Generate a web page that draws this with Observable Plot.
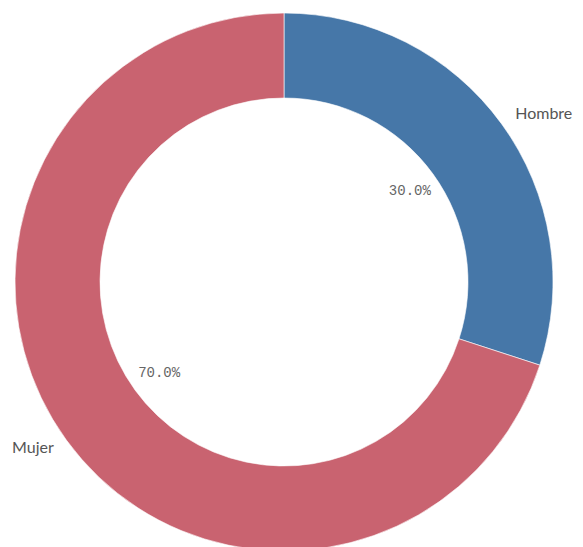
<!DOCTYPE html>
<html>
<head>
<meta charset="utf-8">
<script src="https://cdn.jsdelivr.net/npm/d3@7"></script>
<script src="https://cdn.jsdelivr.net/npm/@observablehq/plot@0.6"></script>
<style>
  html, body { margin: 0; padding: 0; background: #fff; }
  #chart svg { display: block; }
</style>
</head>
<body>
<div id="chart"></div>
<script>
const categories = ["Hombre", "Mujer"];
const values = [30, 70];
const colors = ["#4677a8", "#c96370"];

const total = d3.sum(values);
const pie = d3.pie().sort(null).value(d => d.value);
const arcs = pie(categories.map((c, i) => ({category: c, value: values[i], color: colors[i]})));
const slices = arcs.map(a => {
  const mid = (a.startAngle + a.endAngle) / 2;
  return {
    category: a.data.category,
    color: a.data.color,
    startAngle: a.startAngle,
    endAngle: a.endAngle,
    pct: (a.data.value / total * 100).toFixed(1) + "%",
    sx: Math.sin(mid),
    sy: Math.cos(mid)
  };
});

const INNER = 0.684, LABEL_R = 1.06, PCT_R = 0.576;

function donutMark(index, scales, values, dims, context) {
  const cx = scales.x(0), cy = scales.y(0);
  const r = scales.x(1) - scales.x(0);
  const g = d3.create("svg:g").attr("transform", `translate(${cx},${cy})`);
  const arcGen = d3.arc().innerRadius(r * INNER).outerRadius(r);
  g.selectAll("path").data(slices).join("path")
    .attr("d", d => arcGen(d))
    .attr("fill", d => d.color)
    .attr("stroke", "rgba(255,255,255,0.6)")
    .attr("stroke-width", 1);
  return g.node();
}

const right = slices.filter(d => d.sx >= 0);
const left = slices.filter(d => d.sx < 0);

const plot = Plot.plot({
  width: 583,
  height: 547,
  margin: 0,
  x: {domain: [-1, 1], range: [15, 553], axis: null},
  y: {domain: [-1, 1], range: [551, 13], axis: null},
  marks: [
    donutMark,
    Plot.text(right, {x: d => d.sx * LABEL_R, y: d => d.sy * LABEL_R, dy: -1, text: "category", textAnchor: "start", fontSize: 16, fill: "#555", fontFamily: "Lato"}),
    Plot.text(left, {x: d => d.sx * LABEL_R, y: d => d.sy * LABEL_R, dy: -2, text: "category", textAnchor: "end", fontSize: 16, fill: "#555", fontFamily: "Lato"}),
    Plot.text(slices, {x: d => d.sx * PCT_R, y: d => d.sy * PCT_R, dy: -1, text: "pct", textAnchor: "middle", fontSize: 14, fill: "#666", fontFamily: "Liberation Mono"})
  ]
});
document.getElementById("chart").appendChild(plot);
</script>
</body>
</html>
